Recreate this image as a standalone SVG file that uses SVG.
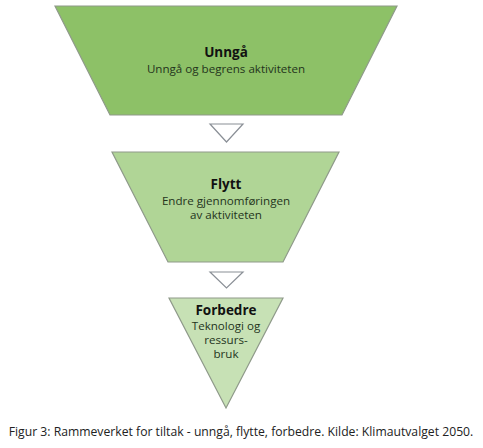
<svg xmlns="http://www.w3.org/2000/svg" width="483" height="448" viewBox="0 0 483 448">
<style>
.shape{stroke:#8f9a8a;stroke-width:1.2}
.arrow{fill:#ffffff;stroke:#8a8f96;stroke-width:1.2}
.t{font-family:"Open Sans","Noto Sans",sans-serif;text-anchor:middle}
.h{font-size:13.5px;font-weight:bold;fill:#111111}
.s{font-size:11.6px;fill:#24341c}
.cap{font-family:"Open Sans","Noto Sans",sans-serif;font-size:12.2px;fill:#222222;text-anchor:middle}
</style>
<rect width="483" height="448" fill="#ffffff"/>
<g id="unnga">
<polygon class="shape" fill="#8dc167" points="55,6 397,6 342,115 110,115"/>
<text class="t h" x="226" y="57">Unngå</text>
<text class="t s" x="226" y="73">Unngå og begrens aktiviteten</text>
</g>
<g id="flytt">
<polygon class="shape" fill="#b0d596" points="112,152 339,152 283,262 168,262"/>
<text class="t h" x="226" y="189">Flytt</text>
<text class="t s" x="226" y="205">Endre gjennomføringen</text>
<text class="t s" x="226" y="219">av aktiviteten</text>
</g>
<g id="forbedre">
<polygon class="shape" fill="#c7e1b5" points="169,298 283,298 226,408"/>
<text class="t h" x="226" y="315">Forbedre</text>
<text class="t s" x="226" y="330">Teknologi og</text>
<text class="t s" x="226" y="344">ressurs-</text>
<text class="t s" x="226" y="358">bruk</text>
</g>
<g id="connectors">
<polygon class="arrow" points="210,124 243,124 226.5,142"/>
<polygon class="arrow" points="210,272 243,272 226.5,288"/>
</g>
<text class="cap" x="241" y="436">Figur 3: Rammeverket for tiltak - unngå, flytte, forbedre. Kilde: Klimautvalget 2050.</text>
</svg>
